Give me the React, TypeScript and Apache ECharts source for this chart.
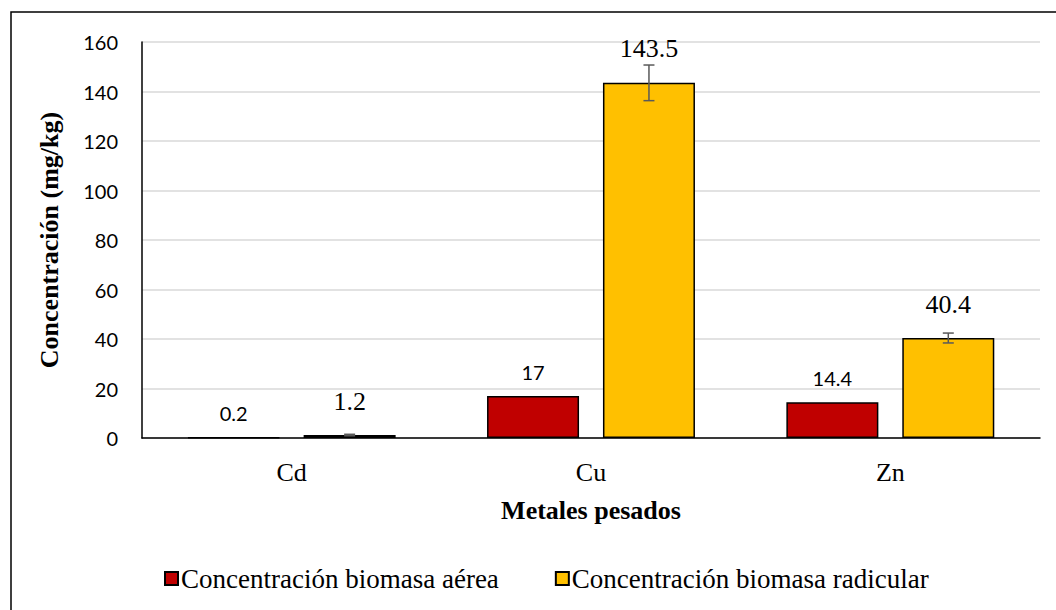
import React, { useEffect, useRef } from "react";
import * as echarts from "echarts";

const categories = ["Cd", "Cu", "Zn"];
const aerea = [0.2, 17, 14.4];
const radicular = [1.2, 143.5, 40.4];
const radicularErr = [0.3, 7.2, 2.0];
const seriesNames = ["Concentración biomasa aérea", "Concentración biomasa radicular"];

const SERIF = "'Liberation Serif', 'Times New Roman', serif";
const SANS = "Lato, 'Liberation Sans', sans-serif";
const BAR_W = 92;
const GAP = 0.26;

export default function App() {
  const ref = useRef<HTMLDivElement>(null);
  useEffect(() => {
    if (!ref.current) return;
    const chart = echarts.init(ref.current, null, { renderer: "svg" });
    const offset = (BAR_W * (1 + GAP)) / 2;
    chart.setOption({
      animation: false,
      backgroundColor: "#ffffff",
      graphic: [
        {
          type: "rect",
          shape: { x: 11, y: 12, width: 1100, height: 700 },
          style: { fill: "none", stroke: "#000", lineWidth: 1.5 },
          silent: true,
        },
      ],
      grid: { left: 142, right: 16, top: 42, bottom: 172 },
      legend: {
        left: 159,
        top: 560,
        itemWidth: 13,
        itemHeight: 13,
        itemGap: 56,
        icon: "rect",
        textStyle: { fontFamily: SERIF, fontSize: 27, color: "#000", padding: [0, 0, 0, -2] },
        data: seriesNames,
      },
      xAxis: {
        type: "category",
        data: categories,
        name: "Metales pesados",
        nameLocation: "middle",
        nameGap: 59,
        nameTextStyle: { fontFamily: SERIF, fontSize: 26, fontWeight: "bold", color: "#000" },
        axisLine: { lineStyle: { color: "#000", width: 1.5 } },
        axisTick: { show: false },
        axisLabel: { fontFamily: SERIF, fontSize: 26, color: "#000", margin: 21 },
      },
      yAxis: {
        type: "value",
        min: 0,
        max: 160,
        interval: 20,
        name: "Concentración (mg/kg)",
        nameLocation: "middle",
        nameGap: 80,
        nameTextStyle: { fontFamily: SERIF, fontSize: 26, fontWeight: "bold", color: "#000" },
        axisLine: { show: true, lineStyle: { color: "#000", width: 1.5 } },
        axisTick: { show: false },
        axisLabel: { fontFamily: SANS, fontSize: 20, color: "#000", margin: 24 },
        splitLine: { lineStyle: { color: "#d9d9d9", width: 1.5 } },
      },
      series: [
        {
          name: seriesNames[0],
          type: "bar",
          data: aerea,
          barWidth: BAR_W,
          barGap: GAP * 100 + "%",
          itemStyle: { color: "#C00000", borderColor: "#000", borderWidth: 1.5 },
          label: {
            show: true,
            position: "top",
            distance: 14,
            fontFamily: SANS,
            fontSize: 20,
            color: "#000",
          },
        },
        {
          name: seriesNames[1],
          type: "bar",
          data: radicular,
          barWidth: BAR_W,
          barGap: GAP * 100 + "%",
          itemStyle: { color: "#FFC000", borderColor: "#000", borderWidth: 1.5 },
          label: {
            show: true,
            position: "top",
            distance: 21,
            fontFamily: SERIF,
            fontSize: 26,
            color: "#000",
          },
        },
        {
          type: "custom",
          z: 10,
          silent: true,
          data: radicular.map((v, i) => [i, v - radicularErr[i], v + radicularErr[i]]),
          encode: { x: 0, y: [1, 2] },
          renderItem: (params: any, api: any) => {
            const i = api.value(0);
            const lo = api.coord([i, api.value(1)]);
            const hi = api.coord([i, api.value(2)]);
            const x = lo[0] + offset;
            const cap = 5.5;
            const style = { stroke: "#595959", lineWidth: 1.5 };
            return {
              type: "group",
              children: [
                { type: "line", shape: { x1: x, y1: lo[1], x2: x, y2: hi[1] }, style },
                { type: "line", shape: { x1: x - cap, y1: lo[1], x2: x + cap, y2: lo[1] }, style },
                { type: "line", shape: { x1: x - cap, y1: hi[1], x2: x + cap, y2: hi[1] }, style },
              ],
            };
          },
        },
      ],
    });
    return () => chart.dispose();
  }, []);
  return (
    <div
      ref={ref}
      style={{ position: "absolute", left: 0, top: 0, width: 1056, height: 610 }}
    />
  );
}
